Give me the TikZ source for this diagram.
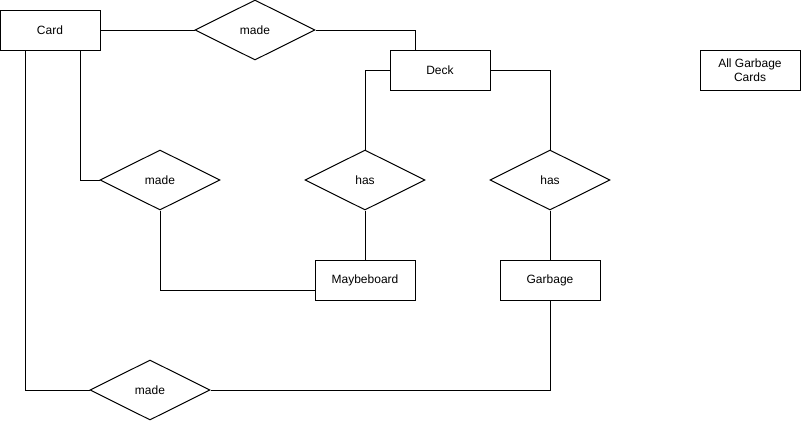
\documentclass[tikz,border=0pt]{standalone}
\usepackage{fontspec}
\setmainfont{Liberation Sans}
\usetikzlibrary{shapes.geometric}
\begin{document}
\begin{tikzpicture}[
			x=1pt, y=-1pt,
			every node/.style={font=\fontsize{12}{14}\selectfont},
			entity/.style={
				rectangle,
				draw,
				line width=1pt,
				minimum width=100pt,
				minimum height=40pt,
				align=center,
			},
			relation/.style={% ER relationship diamonds
				diamond,
				draw,
				line width=1pt,
				aspect=2,
				inner sep=0pt,
				minimum width=120pt,
				minimum height=60pt,
			},
			LinkC1/.style={
				line width=1pt,
			},
			]
				\useasboundingbox (0,0) rectangle (801,421);
				% entities
				\node[entity] (card) at (50,30) {Card};
				\node[entity] (deck) at (440,70) {Deck};
				\node[entity] (maybe) at (365,280) {Maybeboard};
				\node[entity] (garbage) at (550,280) {Garbage};
				\node[entity] (allgarb) at (750,70) {All Garbage\\Cards};
				
				% relations
				\node[relation] (made1) at (255,30) {made};
				\node[relation] (made2) at (160,180) {made};
				\node[relation] (made3) at (150,390) {made};
				\node[relation] (has1) at (365,180) {has};
				\node[relation] (has2) at (550,180) {has};
				
				% links
				\draw[LinkC1] (card.east) -- (made1.west);
				\draw[LinkC1] (made1.east) -| ([xshift=-25pt]deck.north);
				\draw[LinkC1] (deck.west) -| (has1.north);
				\draw[LinkC1] (deck.east) -| (has2.north);
				\draw[LinkC1] (has1.south) -- (maybe.north);
				\draw[LinkC1] (has2.south) -- (garbage.north);
				\draw[LinkC1] ([xshift=30pt]card.south) |- (made2.west);
				\draw[LinkC1] (made2.south) |- ([yshift=-10pt]maybe.west);
				\draw[LinkC1] ([xshift=-25pt]card.south) |- (made3.west);
				\draw[LinkC1] (made3.east) -| (garbage.south);
			\end{tikzpicture}
\end{document}
